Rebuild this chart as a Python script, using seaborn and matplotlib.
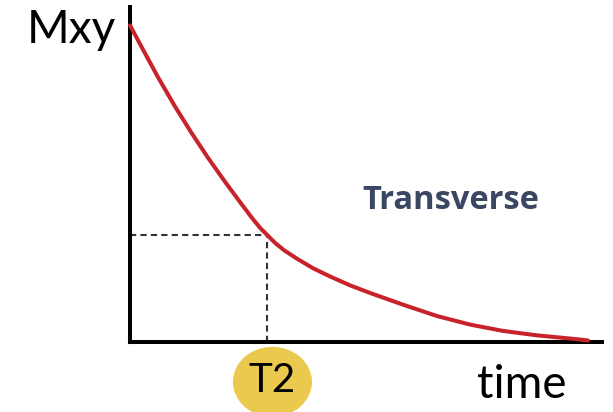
import matplotlib
matplotlib.use("Agg")
import matplotlib.pyplot as plt
import matplotlib.transforms as mtransforms
from matplotlib.patches import Ellipse
import pandas as pd
import seaborn as sns

# transverse decay, time in units of T2, Mxy normalised to its start value
times = [0.0, 0.109, 0.204, 0.327, 0.451, 0.567, 0.691, 0.8, 0.887, 0.945,
         1.0, 1.055, 1.12, 1.215, 1.331, 1.455, 1.6, 1.745, 1.985, 2.233,
         2.473, 2.713, 2.96, 3.2, 3.331]
mxy = [1.0, 0.912, 0.836, 0.744, 0.658, 0.582, 0.506, 0.442, 0.392, 0.361,
       0.337, 0.313, 0.290, 0.263, 0.233, 0.207, 0.179, 0.155, 0.118, 0.082,
       0.055, 0.035, 0.021, 0.011, 0.005]
t2_time = 1.0
t2_mxy = 0.337

sns.set_style("white")
plt.rcParams['font.family'] = ['Lato', 'DejaVu Sans']

df = pd.DataFrame({"time": times, "Mxy": mxy})

fig = plt.figure(figsize=(6.13, 4.12), dpi=100)
ax = fig.add_axes([130 / 613, 70 / 412, 472 / 613, 335 / 412])

sns.lineplot(data=df, x="time", y="Mxy", ax=ax, color="#c8222b",
             linewidth=2.9, clip_on=False, zorder=3)

# dashed guides to the T2 point
ax.plot([0, t2_time], [t2_mxy, t2_mxy], linestyle=(0, (3, 2)),
        color="#333333", linewidth=1.5, zorder=2)
ax.plot([t2_time, t2_time], [0, t2_mxy], linestyle=(0, (3, 2)),
        color="#333333", linewidth=1.5, zorder=2)

ax.set_xlim(0, 3.433)
ax.set_ylim(0, 1.058)
ax.set_xticks([])
ax.set_yticks([])
ax.set_xlabel("")
ax.set_ylabel("")
for side in ["top", "right"]:
    ax.spines[side].set_visible(False)
for side in ["left", "bottom"]:
    ax.spines[side].set_linewidth(2.9)
    ax.spines[side].set_color("black")
    ax.spines[side].set_capstyle("projecting")

# yellow T2 badge under the axis
blend = mtransforms.blended_transform_factory(ax.transData, ax.transAxes)
badge = Ellipse((t2_time + 0.036, -0.119), width=0.575, height=0.209,
                transform=blend, facecolor="#ebc94e", edgecolor="none",
                clip_on=False)
ax.add_patch(badge)
ax.text(t2_time + 0.036, -0.149, "T2", transform=blend, ha="center",
        va="baseline", fontsize=29, color="black")

fig.text(27 / 613, 369 / 412, "Mxy", ha="left", va="baseline",
         fontsize=33, color="black")
fig.text(477 / 613, 14 / 412, "time", ha="left", va="baseline",
         fontsize=33, color="black")
fig.text(362 / 613, 203 / 412, "Transverse", ha="left", va="baseline",
         fontsize=23.5, fontweight="bold", color="#3b4663",
         family=["Open Sans", "DejaVu Sans"])

fig.savefig("out.png", dpi=100)
